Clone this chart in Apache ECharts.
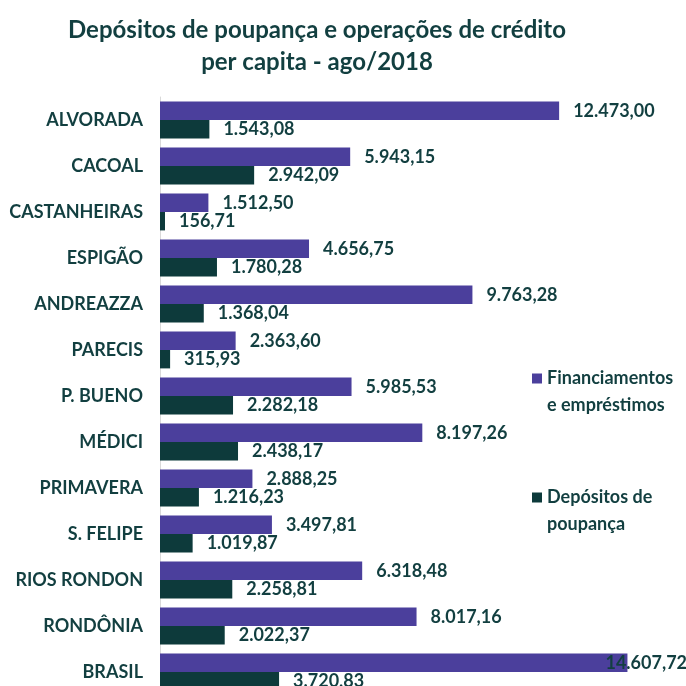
<!DOCTYPE html>
<html>
<head>
<meta charset="utf-8">
<script src="https://cdn.jsdelivr.net/npm/echarts@6/dist/echarts.min.js"></script>
<style>html,body{margin:0;padding:0;background:#fff;overflow:hidden}#c{width:686px;height:720px}</style>
</head>
<body>
<div id="c"></div>
<script>
const categories = ['ALVORADA','CACOAL','CASTANHEIRAS','ESPIGÃO','ANDREAZZA','PARECIS','P. BUENO','MÉDICI','PRIMAVERA','S. FELIPE','RIOS RONDON','RONDÔNIA','BRASIL'];
const financiamentos = [12473.00, 5943.15, 1512.50, 4656.75, 9763.28, 2363.60, 5985.53, 8197.26, 2888.25, 3497.81, 6318.48, 8017.16, 14607.72];
const depositos = [1543.08, 2942.09, 156.71, 1780.28, 1368.04, 315.93, 2282.18, 2438.17, 1216.23, 1019.87, 2258.81, 2022.37, 3720.83];
const seriesNames = ['Financiamentos e empréstimos', 'Depósitos de poupança'];
const legendLines = {'Financiamentos e empréstimos': '\nFinanciamentos\ne empréstimos', 'Depósitos de poupança': '\nDepósitos de\npoupança'};

const TXT = '#123f40';
const FONT = 'Lato';
function fmt(v){
  const parts = v.toFixed(2).split('.');
  parts[0] = parts[0].replace(/\B(?=(\d{3})+(?!\d))/g, '.');
  return parts.join(',');
}
const chart = echarts.init(document.getElementById('c'), null, {renderer:'canvas'});
const finData = financiamentos.map((v,i) => i === financiamentos.length - 1
  ? {value: v, label: {offset: [-36, 0]}} : v);
chart.setOption({
  animation: false,
  backgroundColor: '#ffffff',
  title: {
    text: 'Depósitos de poupança e operações de crédito\nper capita - ago/2018',
    left: 312, top: 9, textAlign: 'center',
    textStyle: {fontFamily: FONT, fontWeight: 'bold', fontSize: 24, color: TXT, lineHeight: 32}
  },
  legend: {
    orient: 'vertical', left: 527, top: 333,
    itemWidth: 10, itemHeight: 10, itemGap: 38,
    icon: 'rect',
    data: seriesNames,
    formatter: n => legendLines[n],
    textStyle: {fontFamily: FONT, fontWeight: 'bold', fontSize: 18, color: TXT, lineHeight: 27}
  },
  grid: {left: 160, width: 512, top: 97, height: 598, containLabel: false},
  xAxis: {type: 'value', min: 0, max: 16000, show: false},
  yAxis: {
    type: 'category', inverse: true, data: categories,
    axisLine: {show: true, lineStyle: {color: '#d9d9d9', width: 1}},
    axisTick: {show: false},
    axisLabel: {margin: 17, fontFamily: FONT, fontWeight: 'bold', fontSize: 18, color: TXT}
  },
  series: [
    {name: seriesNames[0], type: 'bar', data: finData, barGap: '0%', barCategoryGap: '20%',
     itemStyle: {color: '#4b3f9c'},
     label: {show: true, position: 'right', distance: 14, formatter: p => fmt(p.value),
             fontFamily: FONT, fontWeight: 'bold', fontSize: 18, color: TXT}},
    {name: seriesNames[1], type: 'bar', data: depositos, barGap: '0%', barCategoryGap: '20%',
     itemStyle: {color: '#0d3a3b'},
     label: {show: true, position: 'right', distance: 14, formatter: p => fmt(p.value),
             fontFamily: FONT, fontWeight: 'bold', fontSize: 18, color: TXT}}
  ]
});
</script>
</body>
</html>
